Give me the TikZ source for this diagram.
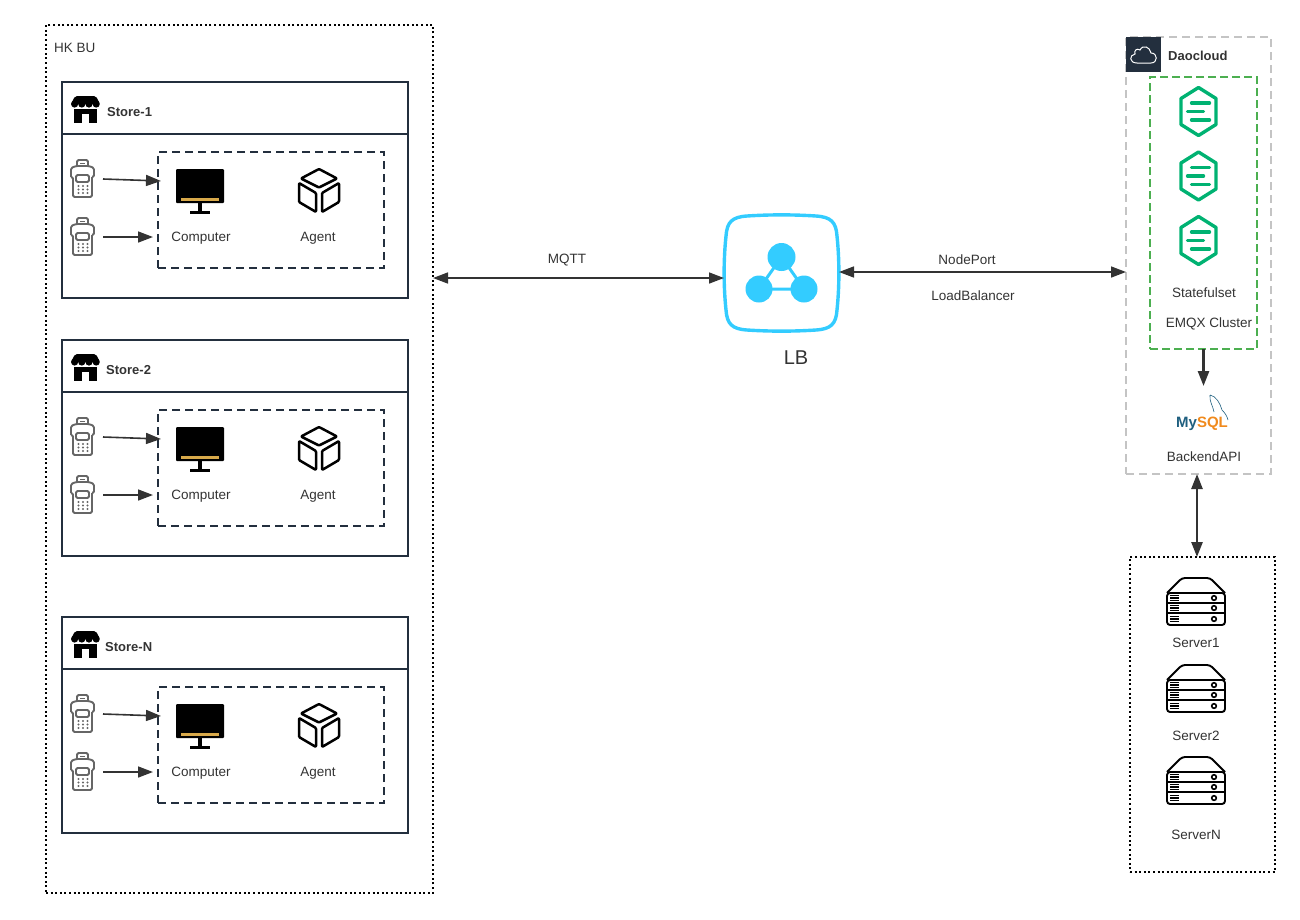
\documentclass[tikz,border=0pt]{standalone}
\usepackage{fontspec}
\setmainfont{Liberation Sans}
\usetikzlibrary{arrows.meta}

\definecolor{inkdark}{HTML}{232F3E}
\definecolor{inktext}{HTML}{333333}
\definecolor{lbblue}{HTML}{33CCFF}
\definecolor{podgreen}{HTML}{00B272}
\definecolor{boxgreen}{HTML}{4CAF50}
\definecolor{boxgrey}{HTML}{C4C4C4}
\definecolor{posgrey}{HTML}{666666}
\definecolor{sqlblue}{HTML}{1F5F7F}
\definecolor{sqlorange}{HTML}{F08A1D}
\definecolor{barcolor}{HTML}{D8A94A}

\tikzset{
  label13/.style={text=inktext,font=\fontsize{13.5}{15}\selectfont,inner sep=0pt,yshift=-.8pt},
  headtxt/.style={label13,anchor=west,font=\fontsize{13}{15}\selectfont\bfseries},
  framebox/.style={draw=inkdark,line width=1.6pt,anchor=north west,inner sep=0pt,outer sep=0pt},
  dotbox/.style={framebox,draw=black,line width=1.6pt,dash pattern=on 2pt off 2.6pt},
  dashbox/.style={framebox,dash pattern=on 8pt off 5pt},
  cloudbox/.style={framebox,draw=boxgrey,line width=2pt,dash pattern=on 8pt off 5pt},
  podbox/.style={framebox,draw=boxgreen,line width=2pt,dash pattern=on 8pt off 4pt},
  link/.style={draw=inktext,line width=1.6pt,-{Triangle[length=15pt,width=11pt]}},
  bilink/.style={link,{Triangle[length=15pt,width=11pt]}-{Triangle[length=15pt,width=11pt]}},
  heavy/.style={line width=2.5pt},
  hole/.style={inner sep=0pt,outer sep=0pt,minimum width=24pt,minimum height=38pt},
  pics/shopicon/.style={code={
    \fill[black,rounded corners=2pt] (4,0) -- (25,0) -- (29,8) -- (0,8) -- cycle;
    \foreach \sx in {3.6,10.8,18,25.2} \fill[black] (\sx,8) circle (3.6);
    \fill[black] (3,13) rectangle (26,26.5);
    \fill[white] (11,18) rectangle (18,26.5);
  }},
  pics/posicon/.style={code={
    \begin{scope}[draw=posgrey,line width=1.9pt,rounded corners=1.5pt]
      \draw (-5,6) -- (-5,0) -- (6,0) -- (6,6);
      \draw (-11,17) -- (-11,8) -- (-6,6) -- (7,6) -- (12,8) -- (12,17) -- (10,17);
      \draw (-11,17) -- (-9,17) -- (-9,37) -- (10,37) -- (10,17);
      \draw (-6,15) rectangle (7,22);
      \draw[line width=1.2pt] (-2,3.5) -- (3,3.5);
    \end{scope}
    \foreach \kx in {-3.5,1,5.5} \foreach \ky in {26,29.5,33}
      \fill[posgrey] (\kx,\ky) circle (1.1);
  }},
  pics/screenicon/.style={code={
    \fill[black,rounded corners=1pt] (-24,0) rectangle (24,34);
    \fill[black] (-2,34) rectangle (2,43);
    \fill[black] (-10,42) rectangle (10,44.5);
    \fill[barcolor] (-19,29) rectangle (19,31.5);
  }},
  pics/cubeicon/.style={code={
    \begin{scope}[draw=black,line width=2.5pt,line join=round,rounded corners=1pt]
      \draw (0,0) -- (18,9.5) -- (0,18.5) -- (-18,9.5) -- cycle;
      \draw (-20,14) -- (-3,24) -- (-3,43) -- (-20,33) -- cycle;
      \draw (20,14) -- (3,24) -- (3,43) -- (20,33) -- cycle;
    \end{scope}
  }},
  pics/hexicon/.style={code={
    \draw[podgreen,line width=3.4pt,line join=round] (0,-24) -- (17.5,-13) -- (17.5,13) -- (0,24) -- (-17.5,13) -- (-17.5,-13) -- cycle;
    \draw[podgreen,line width=3.4pt,line cap=round] (-7,-8.5) -- (11,-8.5);
    \draw[podgreen,line width=3.4pt,line cap=round] (-11,0) -- (5,0);
    \draw[podgreen,line width=3.4pt,line cap=round] (-7,8.5) -- (11,8.5);
  }},
  pics/rackicon/.style={code={
    \begin{scope}[draw=black,line width=1.9pt]
      \draw[rounded corners=3pt] (-29,-8) -- (-14,-23) -- (14,-23) -- (29,-8);
      \draw[rounded corners=3pt] (-29,-8) rectangle (29,24);
      \draw (-29,2) -- (29,2);
      \draw (-29,12) -- (29,12);
      \foreach \ry in {-3,7,18} {
        \draw[line width=1.1pt] (-26,\ry-2.5) -- (-17,\ry-2.5);
        \draw[line width=1.1pt] (-26,\ry) -- (-17,\ry);
        \draw[line width=1.1pt] (-26,\ry+2.5) -- (-17,\ry+2.5);
        \draw[line width=1.6pt] (18,\ry) circle (2.3);
      }
    \end{scope}
  }},
}

\begin{document}
\begin{tikzpicture}[x=1pt,y=-1pt]
  \useasboundingbox (0,0) rectangle (1300,919);

  % left frame
  \node[dotbox,minimum width=387,minimum height=868] (hkbu) at (46,25) {};
  \node[label13,anchor=west] (hkbutxt) at (54,47) {HK BU};

  % the three stores
  \foreach \n/\dy/\tx/\name in {1/0/107/Store-1,2/258/106/Store-2,N/535/105/Store-N} {
    \begin{scope}[shift={(0,\dy)}]
      \node[framebox,minimum width=346,minimum height=216] (store\n) at (62,82) {};
      \draw[draw=inkdark,line width=1.6pt] (store\n.west |- 0,134) -- (store\n.east |- 0,134);
      \pic at (71,96) {shopicon};
      \node[headtxt] (title\n) at (\tx,111) {\name};
      \node[dashbox,minimum width=226,minimum height=116] (host\n) at (158,152) {};
      \node[hole] (posa\n) at (82,179) {};
      \node[hole] (posb\n) at (82,237) {};
      \pic at (82,160) {posicon};
      \pic at (82,218) {posicon};
      \draw[link] ([xshift=9pt]posa\n.east) -- ([xshift=3pt,yshift=-2pt]host\n.west |- posa\n.east);
      \draw[link] ([xshift=9pt]posb\n.east) -- ([xshift=-5pt]host\n.west |- posb\n.east);
      \pic at (200,169) {screenicon};
      \pic at (319,169) {cubeicon};
      \node[label13] (pc\n) at (201,237) {Computer};
      \node[label13] (agent\n) at (318,237) {Agent};
    \end{scope}
  }

  % load balancer
  \node[inner sep=0pt,outer sep=0pt,minimum width=115,minimum height=116] (lb) at (781.5,273) {};
  \draw[lbblue,line width=3.4pt] (747,216) .. controls (770,214.5) and (793,214.5) .. (816,216)
    .. controls (831,217) and (836,222) .. (837,236) .. controls (839.5,260) and (839.5,286) .. (837,310)
    .. controls (836,324) and (831,329) .. (816,330) .. controls (793,331.5) and (770,331.5) .. (747,330)
    .. controls (732,329) and (727,324) .. (726,310) .. controls (723.5,286) and (723.5,260) .. (726,236)
    .. controls (727,222) and (732,217) .. (747,216) -- cycle;
  \draw[lbblue,line width=3pt] (781.5,257) -- (759,289) -- (804,289) -- cycle;
  \fill[lbblue] (781.5,257) circle (14) (759,289) circle (13.5) (804,289) circle (13.5);
  \node[text=inktext,font=\fontsize{20}{22}\selectfont,inner sep=0pt] (lbtxt) at (796,358) {LB};

  % cloud side
  \node[cloudbox,minimum width=145,minimum height=437] (dao) at (1126,37) {};
  \fill[inkdark] (1126,37) rectangle (1161,72);
  \draw[white,line width=1pt] (1137,63) -- (1151,63) .. controls (1158,63) and (1158,53) .. (1151,53)
    .. controls (1150,47) and (1143,44) .. (1140,50) .. controls (1137,48) and (1134,50) .. (1135,54)
    .. controls (1129,55) and (1129,63) .. (1137,63) -- cycle;
  \node[headtxt] (daotxt) at (1168,55) {Daocloud};
  \node[podbox,minimum width=107,minimum height=272] (emqx) at (1150,77) {};
  \pic at (1198.5,111.5) {hexicon};
  \pic at (1198.5,176) {hexicon};
  \pic at (1198.5,240.5) {hexicon};
  \node[label13] (sts) at (1204,292) {Statefulset};
  \node[label13] (emqxtxt) at (1209,323) {EMQX Cluster};

  % mysql
  \coordinate (dbtip) at (1204,386);
  \node[inner sep=0pt,font=\fontsize{15}{16}\selectfont\bfseries] (mysql) at (1202,424)
    {\textcolor{sqlblue}{My}\textcolor{sqlorange}{SQL}};
  \draw[sqlblue,line width=.6pt] (1210,395) .. controls (1209,401) and (1213,406) .. (1214,412)
    (1210,395) .. controls (1216,396) and (1220,403) .. (1222,410) .. controls (1225,413) and (1227,416) .. (1228,420);
  \node[label13] (api) at (1204,456) {BackendAPI};

  % servers
  \node[dotbox,minimum width=145,minimum height=315] (srv) at (1130,557) {};
  \pic at (1196,601) {rackicon};
  \pic at (1196,688) {rackicon};
  \pic at (1196,780) {rackicon};
  \node[label13] (srv1) at (1196,642) {Server1};
  \node[label13] (srv2) at (1196,735) {Server2};
  \node[label13] (srvn) at (1196,834) {ServerN};

  % connectors
  \coordinate (apibottom) at (1197,474);
  \draw[bilink] ([yshift=-5pt]hkbu.east |- lb.west) -- ([yshift=-5pt]lb.west);
  \draw[bilink] ([yshift=1pt]lb.east) -- ([yshift=1pt]lb.east -| dao.west);
  \draw[link,heavy] (emqx.south) -- (emqx.south |- dbtip);
  \draw[bilink,heavy] (apibottom) -- (apibottom |- srv.north);
  \node[label13] (mqtt) at (567,259) {MQTT};
  \node[label13] (nport) at (967,259) {NodePort};
  \node[label13] (lbport) at (973,295) {LoadBalancer};
\end{tikzpicture}
\end{document}
